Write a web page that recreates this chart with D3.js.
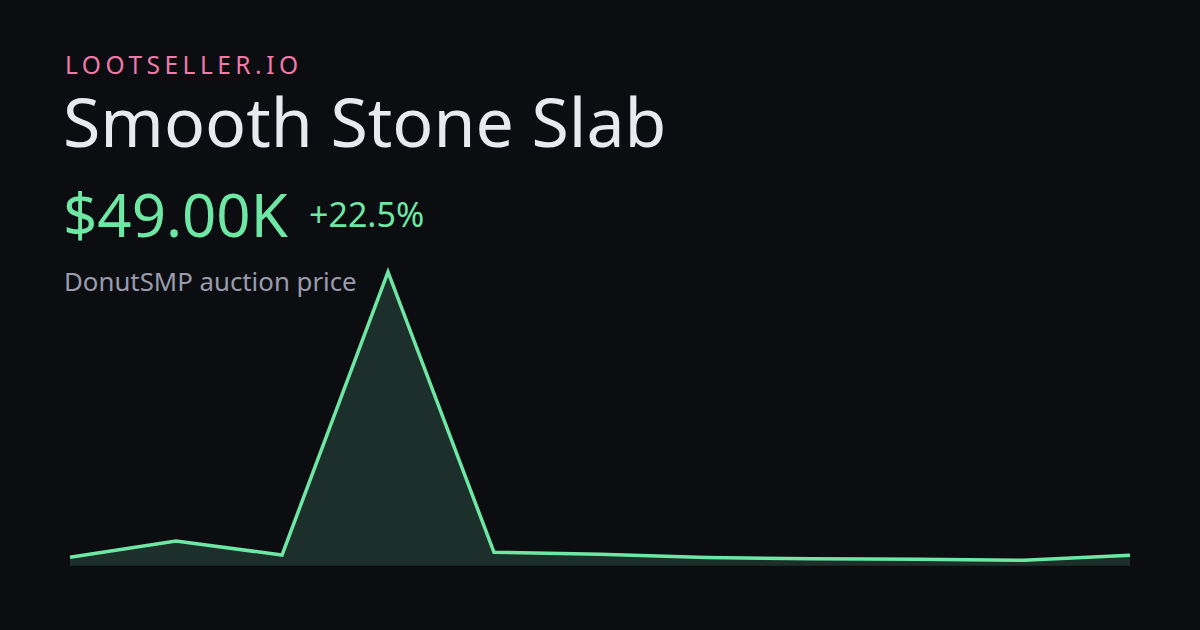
<!DOCTYPE html>
<html><head><meta charset="utf-8">
<script src="https://cdn.jsdelivr.net/npm/d3@7"></script>
<style>html,body{margin:0;padding:0;background:#0c0d11;}svg{display:block;}</style>
</head><body>
<svg id="c" width="1200" height="630"></svg>
<script>
const brand = "LOOTSELLER.IO";
const title = "Smooth Stone Slab";
const priceLabel = "$49.00K";
const changeLabel = "+22.5%";
const subtitle = "DonutSMP auction price";
const points = [0,1,2,3,4,5,6,7,8,9,10];
const prices = [40000,116000,50000,1380000,63000,54000,38000,33000,30000,25500,49000];

const svg = d3.select("#c");
svg.append("rect").attr("width",1200).attr("height",630).attr("fill","#0c0d11");
const font = "'Noto Sans', sans-serif";
svg.append("text").attr("x",65).attr("y",74).text(brand)
  .attr("font-family",font).attr("font-size",24.5).attr("letter-spacing",4.5).attr("fill","#f07aa8");
svg.append("text").attr("x",63).attr("y",147).text(title)
  .attr("font-family",font).attr("font-size",68).attr("fill","#e9eaef");
svg.append("text").attr("x",63).attr("y",237).text(priceLabel)
  .attr("font-family",font).attr("font-size",60).attr("fill","#6ee7a4");
svg.append("text").attr("x",309).attr("y",227).text(changeLabel)
  .attr("font-family",font).attr("font-size",34).attr("fill","#6ee7a4");
svg.append("text").attr("x",64).attr("y",291).text(subtitle)
  .attr("font-family",font).attr("font-size",25.8).attr("fill","#9a9cad");

const x = d3.scaleLinear().domain(d3.extent(points)).range([70,1130]);
const y = d3.scaleLinear().domain([0,d3.max(prices)]).range([565.7,272]);
const data = points.map((p,i)=>({p,v:prices[i]}));
svg.append("path").datum(data)
  .attr("d",d3.area().x(d=>x(d.p)).y0(y(0)).y1(d=>y(d.v)))
  .attr("fill","#1d2f2a");
svg.append("path").datum(data)
  .attr("d",d3.line().x(d=>x(d.p)).y(d=>y(d.v)))
  .attr("fill","none").attr("stroke","#6ee7a4").attr("stroke-width",3.5).attr("stroke-linejoin","miter");
</script>
</body></html>
